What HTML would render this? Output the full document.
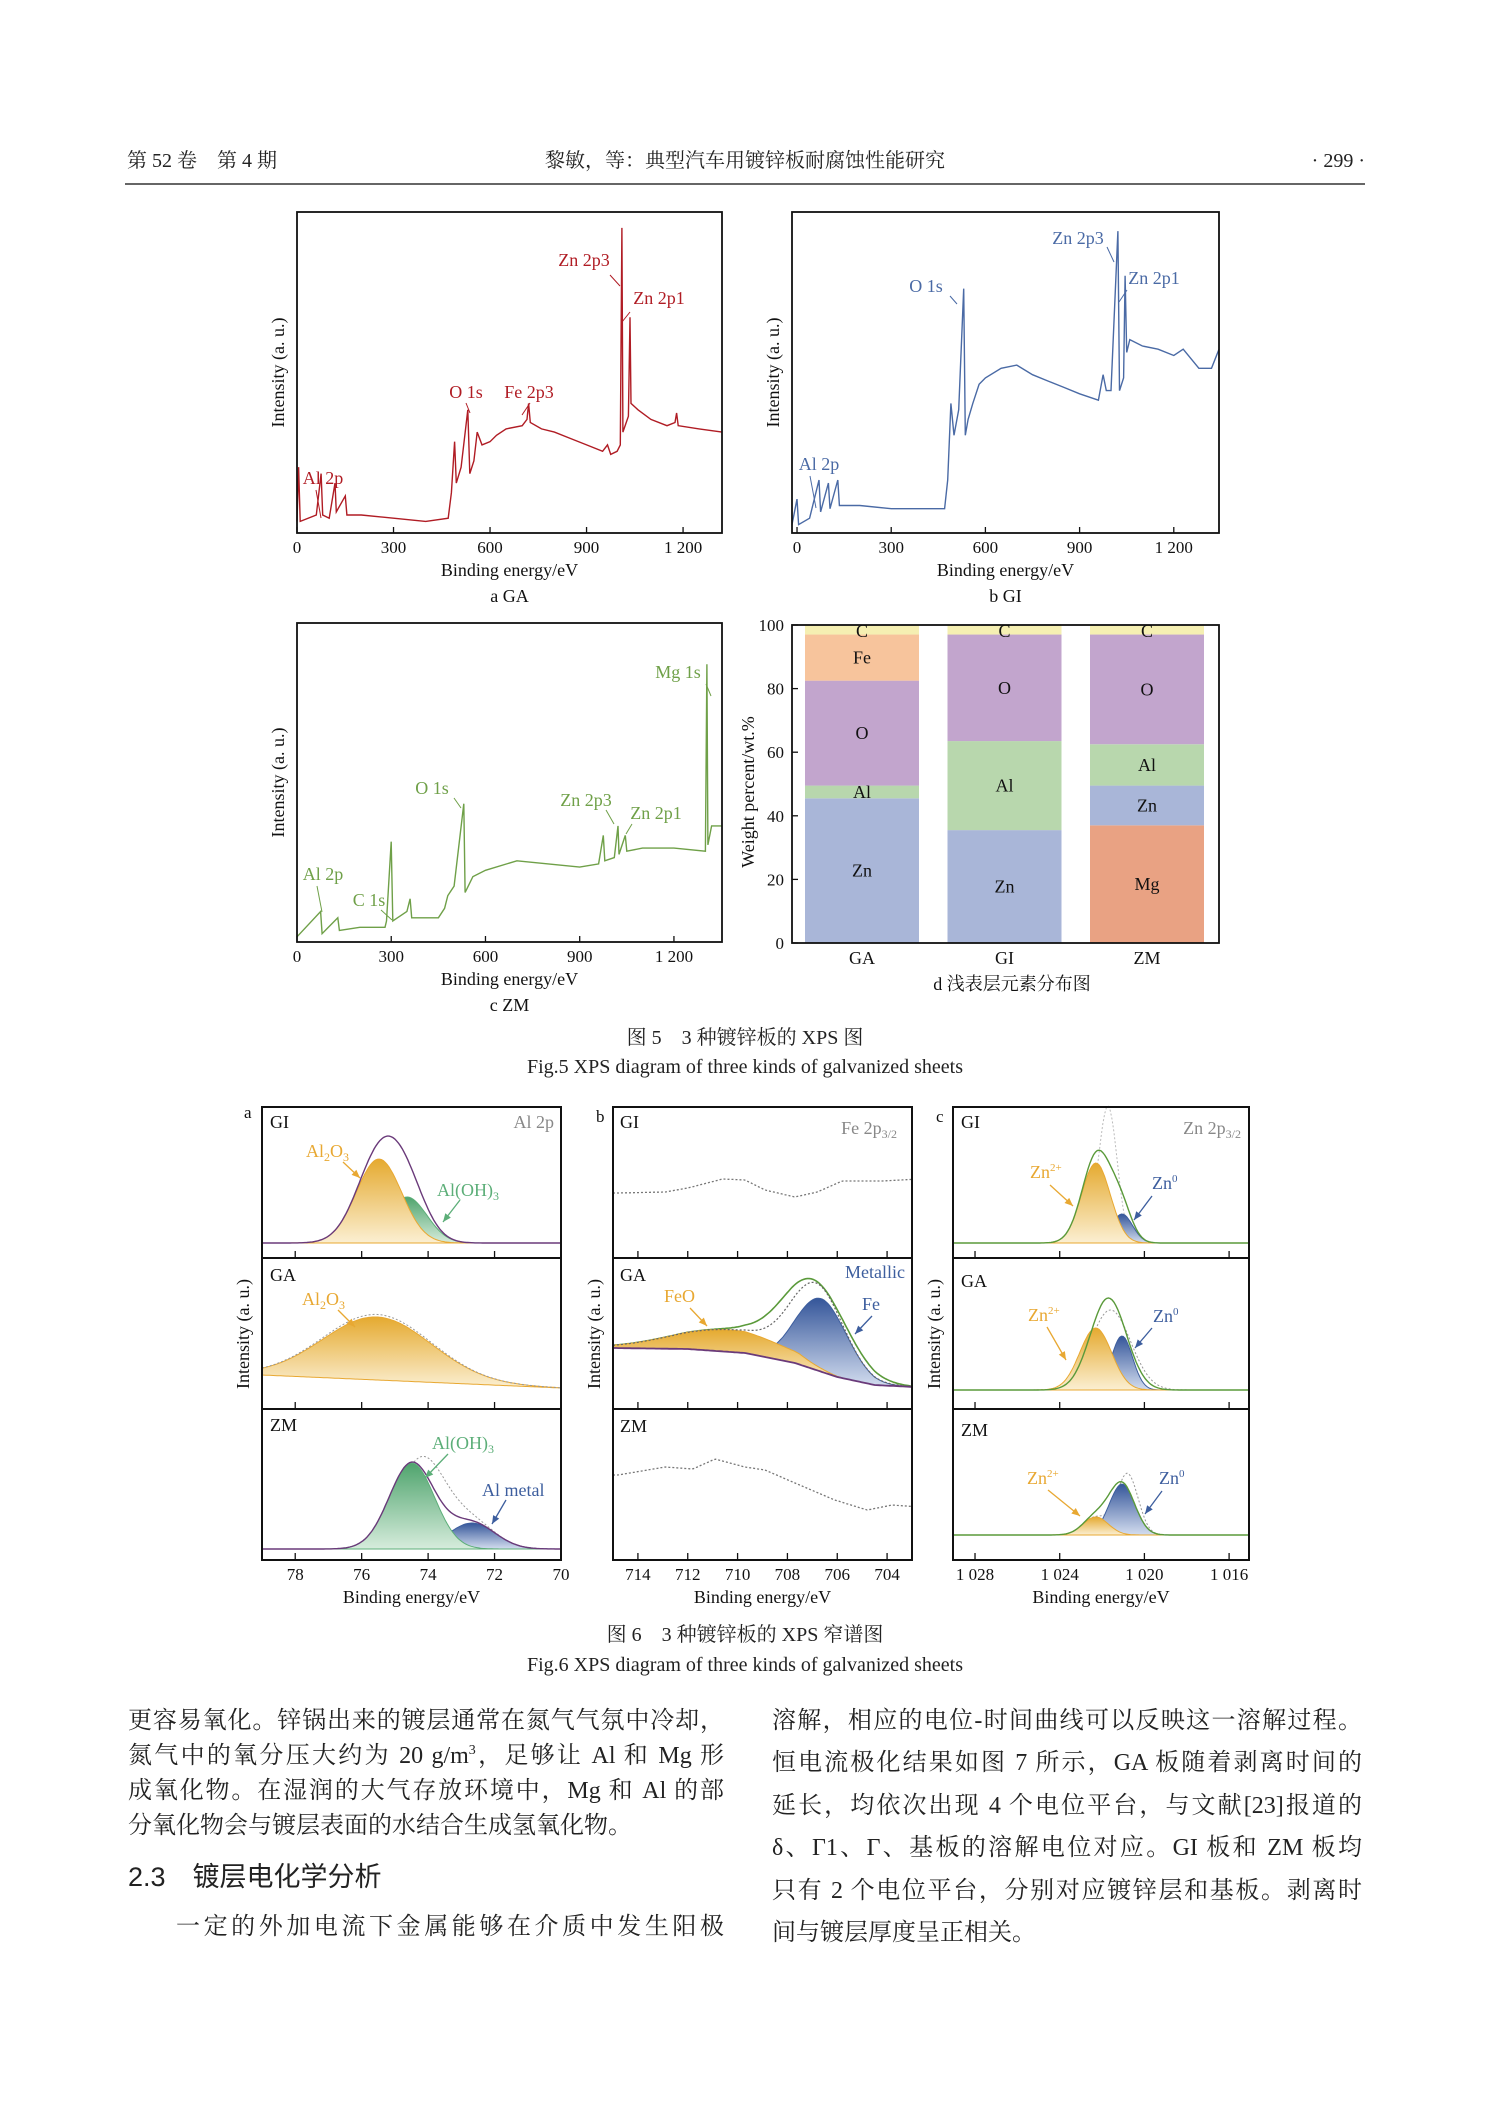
<!DOCTYPE html>
<html><head><meta charset="utf-8">
<style>
html,body{margin:0;padding:0;background:#fff;}
#page{position:relative;width:1489px;height:2106px;overflow:hidden;background:#fff;}
svg text{font-family:"Liberation Serif","Noto Serif CJK SC",serif;}
.body{position:absolute;font-family:"Liberation Serif","Noto Serif CJK SC",serif;font-size:24px;color:#222;line-height:35px;text-align:justify;text-align-last:justify;white-space:nowrap;}
.line{position:absolute;left:0;right:0;height:35px;}
</style></head>
<body>
<div id="page">
<svg id="svg" width="1489" height="2106" viewBox="0 0 1489 2106" xmlns="http://www.w3.org/2000/svg">
<defs>
<linearGradient id="gOr" x1="0" y1="0" x2="0" y2="1"><stop offset="0" stop-color="#e5aa30"/><stop offset="1" stop-color="#fbefd2"/></linearGradient>
<linearGradient id="gGr" x1="0" y1="0" x2="0" y2="1"><stop offset="0" stop-color="#4fa46d"/><stop offset="1" stop-color="#d6ecdc"/></linearGradient>
<linearGradient id="gBl" x1="0" y1="0" x2="0" y2="1"><stop offset="0" stop-color="#35569a"/><stop offset="1" stop-color="#d3ddef"/></linearGradient>
</defs>
<g font-size="20" fill="#222">
<text x="127" y="167">第 52 卷　第 4 期</text>
<text x="745" y="167" text-anchor="middle">黎敏，等：典型汽车用镀锌板耐腐蚀性能研究</text>
<text x="1365" y="167" text-anchor="end">· 299 ·</text>
<line x1="125" y1="184" x2="1365" y2="184" stroke="#333" stroke-width="1.5"/>
</g>
<g id="fig5"></g>
<g id="fig6"></g>
<g font-size="20" fill="#222" text-anchor="middle">
<text x="745" y="1044">图 5　3 种镀锌板的 XPS 图</text>
<text x="745" y="1073">Fig.5 XPS diagram of three kinds of galvanized sheets</text>
<text x="745" y="1641">图 6　3 种镀锌板的 XPS 窄谱图</text>
<text x="745" y="1671">Fig.6 XPS diagram of three kinds of galvanized sheets</text>
</g>
</svg>

<div class="body" style="left:128px;top:1704px;width:596px;">
<div class="line" style="top:0">更容易氧化。锌锅出来的镀层通常在氮气气氛中冷却，</div>
<div class="line" style="top:35px">氮气中的氧分压大约为 20 g/m<sup style="font-size:14px;line-height:0">3</sup>，足够让 Al 和 Mg 形</div>
<div class="line" style="top:70px">成氧化物。在湿润的大气存放环境中，Mg 和 Al 的部</div>
<div class="line" style="top:105px;text-align-last:left">分氧化物会与镀层表面的水结合生成氢氧化物。</div>
<div class="line" style="top:156px;text-align-last:left;font-family:'Liberation Sans','Noto Sans CJK SC',sans-serif;font-size:27px;">2.3　镀层电化学分析</div>
<div class="line" style="top:206px;left:48px">一定的外加电流下金属能够在介质中发生阳极</div>
</div>
<div class="body" style="left:772px;top:1704px;width:590px;">
<div class="line" style="top:0">溶解，相应的电位-时间曲线可以反映这一溶解过程。</div>
<div class="line" style="top:42px">恒电流极化结果如图 7 所示，GA 板随着剥离时间的</div>
<div class="line" style="top:85px">延长，均依次出现 4 个电位平台，与文献[23]报道的</div>
<div class="line" style="top:127px">δ、Γ1、Γ、基板的溶解电位对应。GI 板和 ZM 板均</div>
<div class="line" style="top:170px">只有 2 个电位平台，分别对应镀锌层和基板。剥离时</div>
<div class="line" style="top:212px;text-align-last:left">间与镀层厚度呈正相关。</div>
</div>
</div>

<script>
// ---------- Figure 5 data ----------
const gaSpectrum = [[0,3],[5,20],[10,3],[60,5],[75,18],[80,5],[100,4],[118,15],[122,6],[150,11],[155,5],[200,5],[300,4],[400,3],[470,4],[480,12],[490,28],[495,15],[510,20],[531,38],[537,18],[550,22],[560,31],[575,27],[600,28],[620,30],[650,32],[700,33],[715,35],[720,40],[725,34],[760,32],[800,31],[850,29],[900,27],[950,25],[965,27],[975,24],[995,25],[1005,27],[1010,95],[1013,31],[1030,36],[1035,67],[1038,40],[1060,38],[1100,35],[1150,33],[1175,34],[1180,37],[1185,33],[1250,32],[1321,31]];
const giSpectrum = [[-16,2],[0,10],[5,2],[40,4],[70,16],[75,6],[100,15],[105,7],[130,16],[135,8],[200,8],[300,7],[400,7],[470,7],[480,16],[490,40],[500,30],[515,38],[531,76],[536,30],[545,35],[560,40],[580,46],[600,48],[650,51],[700,52],[750,49],[800,47],[850,45],[900,43],[960,41],[975,49],[985,44],[1000,44],[1022,94],[1027,44],[1040,48],[1045,80],[1050,56],[1060,60],[1100,58],[1150,57],[1200,55],[1230,57],[1280,51],[1320,51],[1344,57]];
const zmSpectrum = [[0,1],[75,9],[80,2],[100,4],[130,7],[135,3],[200,4],[280,4],[285,6],[300,31],[305,6],[350,9],[360,13],[365,7],[450,7],[470,10],[480,14],[500,17],[531,43],[535,15],[560,20],[600,22],[700,25],[800,24],[900,23],[960,24],[975,33],[980,25],[1010,26],[1022,36],[1025,27],[1045,33],[1050,28],[1100,29],[1200,29],[1300,28],[1305,87],[1308,30],[1320,36],[1353,36]];
const surveyTicks = [0,300,600,900,1200];
const surveyTickLabels = ["0","300","600","900","1 200"];
const barCategories = ["GA","GI","ZM"];
const barElements = ["Mg","Zn","Al","O","Fe","C"];
const barZn = [45.5,35.5,12.5];
const barMg = [0,0,37];
const barAl = [4,28,13];
const barO = [33,33.5,34.5];
const barFe = [14.5,0,0];
const barC = [3,3,3];
const barTicks = [0,20,40,60,80,100];

// ---------- Figure 6 data (peak center eV, height px, sigma eV) ----------
const aGI_Al2O3=[75.48,84,0.68], aGI_AlOH=[74.64,46,0.6];
const aGA_Al2O3=[75.54,63,1.64];
const aZM_AlOH=[74.49,86,0.68], aZM_Almetal=[72.68,26,0.7], aZM_dotted=[74.2,90,0.72];
const aGA_bg=[[79,34],[70,21]];
const bGI_dotted=[[714.8,65],[712.9,66],[712.0,70],[710.6,79],[709.7,78],[708.9,68],[707.7,61],[706.8,66],[705.8,77],[704.2,77],[702.7,79]];
const bZM_dotted=[[714.8,85],[712.9,93],[711.8,91],[710.9,101],[709.7,93],[708.9,90],[707.7,77],[706.1,60],[704.8,50],[703.8,55],[702.7,53]];
const bGA_bg=[[715,61],[712.0,60],[709.7,56],[707.7,46],[706.0,32],[704.5,24],[702.9,22]];
const bGA_FeO=[710.3,22,2.3], bGA_Fe=[706.65,73,1.02], bGA_env=[706.9,82,1.25], bGA_dot=[706.8,80,1.05];
const cGI_Zn2=[1022.29,80,0.68], cGI_Zn0=[1021.06,29,0.5], cGI_dot=[1021.7,123,0.42];
const cGA_Zn2=[1022.3,62,0.75], cGA_Zn0=[1021.06,54,0.5], cGA_env=[1021.7,92,0.85], cGA_dot=[1021.6,80,0.95];
const cZM_Zn2=[1022.3,18,0.6], cZM_Zn0=[1021.06,51,0.6], cZM_dot=[1020.8,61,0.5];
const aTicks=[78,76,74,72,70], bTicks=[714,712,710,708,706,704], cTicks=[1028,1024,1020,1016];
const cTickLabels=["1 028","1 024","1 020","1 016"];

const NS="http://www.w3.org/2000/svg";
function mk(tag,attrs,parent){const e=document.createElementNS(NS,tag);for(const k in attrs)e.setAttribute(k,attrs[k]);parent.appendChild(e);return e;}
function txt(parent,x,y,s,size,fill,anchor){const t=mk('text',{x:x,y:y,'font-size':size,fill:fill,'text-anchor':anchor||'start'},parent);t.textContent=s;return t;}
function lin(x0,x1,p0,p1){return v=>p0+(v-x0)/(x1-x0)*(p1-p0);}

const f5=document.getElementById('fig5');
function survey(name,box,dom,data,color,labels,sub){
  const g=mk('g',{},f5);
  
  
  const xs=lin(dom[0],dom[1],box[0],box[2]);
  const ys=lin(0,100,box[3]-2,box[1]);
  const d=data.map((p,i)=>(i?'L':'M')+xs(p[0]).toFixed(1)+','+ys(p[1]).toFixed(1)).join('');
  const path=mk('path',{d:d,fill:'none',stroke:color,'stroke-width':1.4},g);
  
  
  const r=mk('rect',{x:box[0],y:box[1],width:box[2]-box[0],height:box[3]-box[1],fill:'none',stroke:'#111','stroke-width':1.8},g);
  
  
  surveyTicks.forEach((t,i)=>{const x=xs(t);mk('line',{x1:x,y1:box[3],x2:x,y2:box[3]-6,stroke:'#111','stroke-width':1.3},g);
    const tl=txt(g,x,box[3]+20,surveyTickLabels[i],17,'#111','middle');
    
    });
  const xl=txt(g,(box[0]+box[2])/2,box[3]+43,'Binding energy/eV',18,'#111','middle');
  
  
  const sl=txt(g,(box[0]+box[2])/2,box[3]+69,sub,18,'#111','middle');
  
  
  const cy=(box[1]+box[3])/2;
  const yl=txt(g,0,0,'Intensity (a. u.)',18,'#111','middle');
  yl.setAttribute('transform','translate('+(box[0]-13)+','+cy+') rotate(-90)');
  
  
  labels.forEach(L=>{const t=txt(g,L[1],L[2],L[0],18,color,'middle');
    
    
    mk('line',{x1:L[3],y1:L[4],x2:L[5],y2:L[6],stroke:color,'stroke-width':1},g);});
}
survey('survey-chart-ga',[297,212,722,533],[0,1321],gaSpectrum,'#b01c24',[
 ['Zn 2p3',584,266,610,275,620,286],['Zn 2p1',659,304,630,312,622,322],['O 1s',466,398,466,403,470,413],['Fe 2p3',529,398,530,403,522,415],['Al 2p',323,484,316,490,321,518]],'a  GA');
survey('survey-chart-gi',[792,212,1219,533],[-16,1344],giSpectrum,'#4a6aa5',[
 ['Zn 2p3',1078,244,1107,247,1114,262],['Zn 2p1',1154,284,1127,290,1119,302],['O 1s',926,292,950,296,957,304],['Al 2p',819,470,810,476,816,508]],'b  GI');
survey('survey-chart-zm',[297,623,722,942],[0,1353],zmSpectrum,'#6fa048',[
 ['Mg 1s',678,678,706,684,711,696],['O 1s',432,794,454,798,461,808],['Zn 2p3',586,806,606,810,614,824],['Zn 2p1',656,819,632,824,626,834],['Al 2p',323,880,317,886,322,912],['C 1s',369,906,381,910,392,920]],'c  ZM');

// bar chart
(function(){
  const box=[792,625,1219,943];
  const g=mk('g',{},f5);
  
  
  const ys=lin(0,100,box[3],box[1]);
  const series={Zn:barZn,Mg:barMg,Al:barAl,O:barO,Fe:barFe,C:barC};
  const colors={Zn:'#a9b6d8',Mg:'#e9a283',Al:'#b8d7ad',O:'#c2a5cd',Fe:'#f7c49c',C:'#f5efb2'};
  const xc=lin(0,2,862,1147);
  const bw=114;
  barCategories.forEach((c,i)=>{
    let acc=0;
    barElements.forEach(el=>{const v=series[el][i]; if(v<=0) return;
      const r=mk('rect',{x:xc(i)-bw/2,y:ys(acc+v),width:bw,height:ys(acc)-ys(acc+v),fill:colors[el]},g);
      
      
      let ly=(ys(acc)+ys(acc+v))/2+6; if(el==='C') ly=ys(acc+v)+12;
      const t=txt(g,xc(i),ly,el,18,'#111','middle');
      
      
      acc+=v;});
    const cl=txt(g,xc(i),box[3]+21,c,18,'#111','middle');
    
    
  });
  mk('rect',{x:box[0],y:box[1],width:box[2]-box[0],height:box[3]-box[1],fill:'none',stroke:'#111','stroke-width':1.8},g);
  barTicks.forEach(t=>{const y=ys(t);mk('line',{x1:box[0],y1:y,x2:box[0]+6,y2:y,stroke:'#111','stroke-width':1.3},g);
    const tl=txt(g,box[0]-8,y+6,String(t),17,'#111','end');
    
    });
  const yl=txt(g,0,0,'Weight percent/wt.%',18,'#111','middle');
  yl.setAttribute('transform','translate(754,792) rotate(-90)');
  
  
  const st=txt(g,1012,990,'d  浅表层元素分布图',18,'#111','middle');
  
  
})();

// ---------- Figure 6 ----------
const f6=document.getElementById('fig6');
const rowsY=[1107,1258,1409,1560];
function gauss(p,e){return p[1]*Math.exp(-((e-p[0])**2)/(2*p[2]*p[2]));}
function interp(pts,e){const s=pts.slice().sort((a,b)=>a[0]-b[0]);if(e<=s[0][0])return s[0][1];if(e>=s[s.length-1][0])return s[s.length-1][1];
  for(let i=0;i<s.length-1;i++){if(e>=s[i][0]&&e<=s[i+1][0]){const t=(e-s[i][0])/(s[i+1][0]-s[i][0]);return s[i][1]+t*(s[i+1][1]-s[i][1]);}}return 0;}
function panel(name,x0,x1,dom,row,bgOff,draws){
  const g=mk('g',{},f6);
  
  
  const xs=lin(dom[0],dom[1],x0,x1);
  const top=rowsY[row],bot=rowsY[row+1];
  const base=e=>typeof bgOff==='function'?bot-bgOff(e):bot-bgOff;
  const N=160;
  const es=[];for(let i=0;i<=N;i++)es.push(dom[0]+(dom[1]-dom[0])*i/N);
  draws.forEach(dw=>{
    const lowF=dw.low||(()=>0);
    const up=es.map(e=>[xs(e),base(e)-lowF(e)-dw.f(e)]);
    const lo=es.map(e=>[xs(e),base(e)-lowF(e)]);
    let d;
    if(dw.fill){d='M'+up.map(p=>p[0].toFixed(1)+','+p[1].toFixed(1)).join('L')+'L'+lo.reverse().map(p=>p[0].toFixed(1)+','+p[1].toFixed(1)).join('L')+'Z';
      const p=mk('path',{d:d,fill:dw.fill,stroke:dw.stroke||'none','stroke-width':1},g);
      
      }
    else{d='M'+up.map(p=>p[0].toFixed(1)+','+p[1].toFixed(1)).join('L');
      const p=mk('path',{d:d,fill:'none',stroke:dw.stroke,'stroke-width':dw.w||1.4,'stroke-dasharray':dw.dash||'none'},g);
      
      }
  });
  mk('rect',{x:x0,y:top,width:x1-x0,height:bot-top,fill:'none',stroke:'#111','stroke-width':2},g);
  return {g,xs,top,bot};
}
function ticks(x0,x1,dom,list,labels){
  const xs=lin(dom[0],dom[1],x0,x1);
  for(let r=0;r<3;r++)list.forEach(t=>mk('line',{x1:xs(t),y1:rowsY[r+1],x2:xs(t),y2:rowsY[r+1]-7,stroke:'#111','stroke-width':1.3},f6));
  list.forEach((t,i)=>{const tl=txt(f6,xs(t),1580,labels?labels[i]:String(t),17,'#111','middle');
    
    });
  const xl=txt(f6,(x0+x1)/2,1603,'Binding energy/eV',18,'#111','middle');
  
  
  const yl=txt(f6,0,0,'Intensity (a. u.)',18,'#111','middle');
  yl.setAttribute('transform','translate('+(x0-13)+',1334) rotate(-90)');
  
  
}
function lab(s,x,y,c,size,anchor){const t=txt(f6,x,y,s,size||18,c,anchor||'start');return t;}
function lab2(html,x,y,c,anchor){const t=mk('text',{x:x,y:y,'font-size':18,fill:c,'text-anchor':anchor||'start'},f6);t.innerHTML=html;return t;}
function arrow(x1,y1,x2,y2,c){mk('line',{x1:x1,y1:y1,x2:x2,y2:y2,stroke:c,'stroke-width':1.3},f6);
  const a=Math.atan2(y2-y1,x2-x1),L=9;mk('path',{d:`M${x2},${y2}L${x2-L*Math.cos(a-0.4)},${y2-L*Math.sin(a-0.4)}L${x2-L*Math.cos(a+0.4)},${y2-L*Math.sin(a+0.4)}Z`,fill:c},f6);}
const OR='#e8a832',GR='#5cae78',BL='#3d5e9e',PU='#6a3a7a',LG='#5a9a3a',GY='#999';

// panel a
const aD=[79,70];
panel('al2p-gi',262,561,aD,0,15,[
 {name:'aloh3-peak',fill:'url(#gGr)',stroke:GR,f:e=>gauss(aGI_AlOH,e)},
 {name:'al2o3-peak',fill:'url(#gOr)',stroke:OR,f:e=>gauss(aGI_Al2O3,e)},
 {name:'envelope',stroke:PU,f:e=>gauss(aGI_Al2O3,e)+gauss(aGI_AlOH,e)}]);
panel('al2p-ga',262,561,aD,1,e=>interp(aGA_bg,e),[
 {name:'al2o3-peak',fill:'url(#gOr)',stroke:OR,f:e=>gauss(aGA_Al2O3,e)},
 {name:'fit-dotted',stroke:GY,dash:'2,2',w:1,f:e=>gauss(aGA_Al2O3,e)*1.04}]);
panel('al2p-zm',262,561,aD,2,11,[
 {name:'fit-dotted',stroke:GY,dash:'2,2',w:1,f:e=>gauss(aZM_dotted,e)+gauss(aZM_Almetal,e)},
 {name:'al-metal-peak',fill:'url(#gBl)',stroke:BL,f:e=>gauss(aZM_Almetal,e)},
 {name:'aloh3-peak',fill:'url(#gGr)',stroke:GR,f:e=>gauss(aZM_AlOH,e)},
 {name:'envelope',stroke:PU,f:e=>gauss(aZM_AlOH,e)+gauss(aZM_Almetal,e)}]);
ticks(262,561,aD,aTicks);
lab('a',244,1118,'#111',17);lab('GI',270,1128,'#111');lab('Al 2p',554,1128,'#888',18,'end');
lab2('Al<tspan font-size="12" dy="4">2</tspan><tspan dy="-4">O</tspan><tspan font-size="12" dy="4">3</tspan>',306,1157,OR);arrow(343,1162,360,1178,OR);
lab2('Al(OH)<tspan font-size="12" dy="4">3</tspan>',437,1196,GR);arrow(460,1200,443,1222,GR);
lab('GA',270,1281,'#111');
lab2('Al<tspan font-size="12" dy="4">2</tspan><tspan dy="-4">O</tspan><tspan font-size="12" dy="4">3</tspan>',302,1305,OR);arrow(338,1310,355,1327,OR);
lab('ZM',270,1431,'#111');
lab2('Al(OH)<tspan font-size="12" dy="4">3</tspan>',432,1449,GR);arrow(448,1454,425,1478,GR);
lab('Al metal',482,1496,BL);arrow(506,1500,492,1524,BL);

// panel b
const bD=[715,703];
panel('fe2p-gi',613,912,bD,0,0,[{name:'fit-dotted',stroke:'#777',dash:'2,2',w:1.3,f:e=>interp(bGI_dotted,e)}]);
panel('fe2p-ga',613,912,bD,1,e=>interp(bGA_bg,e),[
 {name:'envelope-green',stroke:LG,w:1.6,f:e=>Math.max(gauss(bGA_FeO,e),0)+gauss(bGA_env,e)},
 {name:'fe-metal-peak',fill:'url(#gBl)',stroke:BL,f:e=>gauss(bGA_Fe,e)},
 {name:'feo-peak',fill:'url(#gOr)',stroke:OR,f:e=>gauss(bGA_FeO,e)*(e>707.5?1:Math.max(0,1-(707.5-e)/1.8))},
 {name:'fit-dotted',stroke:'#666',dash:'2,2',w:1.2,f:e=>gauss(bGA_FeO,e)+gauss(bGA_dot,e)},
 {name:'background',stroke:PU,w:1.8,f:e=>0}]);
panel('fe2p-zm',613,912,bD,2,0,[{name:'fit-dotted',stroke:'#777',dash:'2,2',w:1.3,f:e=>interp(bZM_dotted,e)}]);
ticks(613,912,bD,bTicks);
lab('b',596,1122,'#111',17);lab('GI',620,1128,'#111');
lab2('Fe 2p<tspan font-size="12" dy="4">3/2</tspan>',897,1134,'#888','end');
lab('GA',620,1281,'#111');lab('Metallic',905,1278,BL,18,'end');
lab('FeO',664,1302,OR);arrow(690,1308,707,1326,OR);
lab('Fe',862,1310,BL);arrow(872,1316,855,1334,BL);
lab('ZM',620,1432,'#111');

// panel c
const cD=[1029.04,1015.06];
panel('zn2p-gi',953,1249,cD,0,15,[
 {name:'fit-dotted',stroke:'#bbb',dash:'2,2',w:1,f:e=>gauss(cGI_dot,e)+gauss(cGI_Zn2,e)*0.25},
 {name:'zn0-peak',fill:'url(#gBl)',stroke:BL,f:e=>gauss(cGI_Zn0,e)},
 {name:'zn2-peak',fill:'url(#gOr)',stroke:OR,f:e=>gauss(cGI_Zn2,e)},
 {name:'envelope',stroke:LG,f:e=>gauss(cGI_Zn2,e)+gauss(cGI_Zn0,e)+gauss([1021.8,14,0.6],e)}]);
panel('zn2p-ga',953,1249,cD,1,19,[
 {name:'fit-dotted',stroke:GY,dash:'2,2',w:1,f:e=>gauss(cGA_dot,e)},
 {name:'zn0-peak',fill:'url(#gBl)',stroke:BL,f:e=>gauss(cGA_Zn0,e)},
 {name:'zn2-peak',fill:'url(#gOr)',stroke:OR,f:e=>gauss(cGA_Zn2,e)},
 {name:'envelope',stroke:LG,f:e=>gauss(cGA_env,e)}]);
panel('zn2p-zm',953,1249,cD,2,25,[
 {name:'fit-dotted',stroke:GY,dash:'2,2',w:1,f:e=>gauss(cZM_dot,e)+gauss(cZM_Zn2,e)},
 {name:'zn0-peak',fill:'url(#gBl)',stroke:BL,f:e=>gauss(cZM_Zn0,e)},
 {name:'zn2-peak',fill:'url(#gOr)',stroke:OR,f:e=>gauss(cZM_Zn2,e)},
 {name:'envelope',stroke:LG,f:e=>gauss(cZM_Zn2,e)+gauss(cZM_Zn0,e)}]);
ticks(953,1249,cD,cTicks,cTickLabels);
lab('c',936,1122,'#111',17);lab('GI',961,1128,'#111');
lab2('Zn 2p<tspan font-size="12" dy="4">3/2</tspan>',1241,1134,'#888','end');
lab2('Zn<tspan font-size="11" dy="-7">2+</tspan>',1030,1178,OR);arrow(1050,1185,1073,1206,OR);
lab2('Zn<tspan font-size="11" dy="-7">0</tspan>',1152,1189,BL);arrow(1152,1196,1134,1220,BL);
lab('GA',961,1287,'#111');
lab2('Zn<tspan font-size="11" dy="-7">2+</tspan>',1028,1321,OR);arrow(1047,1327,1066,1360,OR);
lab2('Zn<tspan font-size="11" dy="-7">0</tspan>',1153,1322,BL);arrow(1152,1328,1135,1348,BL);
lab('ZM',961,1436,'#111');
lab2('Zn<tspan font-size="11" dy="-7">2+</tspan>',1027,1484,OR);arrow(1048,1490,1080,1516,OR);
lab2('Zn<tspan font-size="11" dy="-7">0</tspan>',1159,1484,BL);arrow(1162,1491,1145,1514,BL);
</script>
</body></html>
